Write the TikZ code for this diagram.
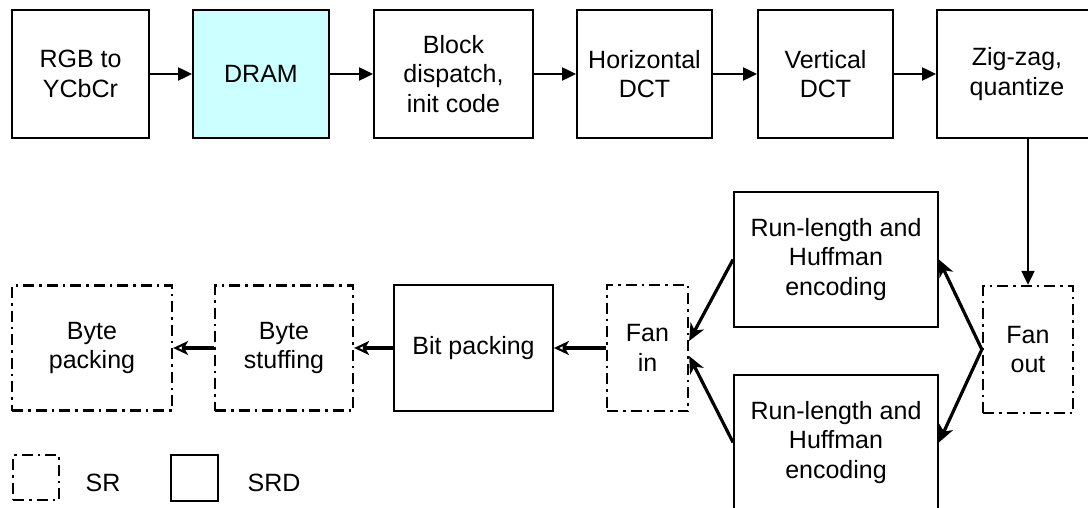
\documentclass[tikz,border=0pt]{standalone}
\usepackage{fontspec}
\setmainfont{Liberation Sans}
\usetikzlibrary{arrows.meta}
\definecolor{dramfill}{HTML}{CCFFFF}
\tikzset{
  blk/.style={draw, line width=1.8pt, inner sep=0pt, align=center,
    font=\fontsize{25}{29.5}\selectfont},
  srd/.style={blk},
  sr/.style={blk, line width=2.3pt, dash pattern=on 11pt off 5pt on 2.5pt off 5pt},
  flow/.style={line width=2pt, -{Triangle[length=14pt,width=13pt]}},
  fan/.style={line width=3.2pt, -{Stealth[length=17pt,width=15pt,inset=5pt]}},
  back/.style={line width=3.5pt, -{Stealth[length=15pt,width=14pt,inset=4pt,open,line width=2.2pt]}},
  legtext/.style={font=\fontsize{25}{29}\selectfont, inner sep=0pt}
}
\begin{document}
\begin{tikzpicture}[x=1pt, y=-1pt]
\useasboundingbox (0,0) rectangle (1088,508);
\clip (0,0) rectangle (1088,508);

% top row: SRD stages
\node[srd, minimum width=137pt, minimum height=128pt] (rgb) at (80.5,74) {RGB to\\YCbCr};
\node[srd, fill=dramfill, minimum width=136pt, minimum height=128pt] (dram) at (261,74) {DRAM};
\node[srd, minimum width=159pt, minimum height=128pt] (block) at (453.5,74) {Block\\dispatch,\\init code};
\node[srd, minimum width=135pt, minimum height=128pt] (hdct) at (644.5,74) {Horizontal\\DCT};
\node[srd, minimum width=135pt, minimum height=128pt] (vdct) at (825.5,74) {Vertical\\DCT};
\node[srd, minimum width=160pt, minimum height=128pt] (zig) at (1017,74) {Zig-zag,\\quantize};

% fan-out / parallel encoders / fan-in
\node[sr, minimum width=90pt, minimum height=127pt] (fanout) at (1028,349.5) {Fan\\out};
\node[srd, minimum width=204pt, minimum height=135pt] (rl1) at (836,259.5) {Run-length and\\Huffman\\encoding};
\node[srd, minimum width=204pt, minimum height=135pt] (rl2) at (836,442.5) {Run-length and\\Huffman\\encoding};
\node[sr, minimum width=81pt, minimum height=126pt] (fanin) at (647.5,348) {Fan\\in};

% bottom row
\node[srd, minimum width=159pt, minimum height=126pt] (bitp) at (473.5,348) {Bit packing};
\node[sr, minimum width=138pt, minimum height=125pt] (bstuff) at (284,348) {Byte\\stuffing};
\node[sr, minimum width=160pt, minimum height=125pt] (bpack) at (92,348) {Byte\\packing};

% legend
\node[sr, minimum width=46pt, minimum height=45pt] (legsr) at (36,477.5) {};
\node[legtext] (legsrt) at (103,483) {SR};
\node[srd, minimum width=47pt, minimum height=46pt] (legsrd) at (194.5,478) {};
\node[legtext] (legsrdt) at (274,483) {SRD};

% connectors
\draw[flow] (rgb) -- (dram);
\draw[flow] (dram) -- (block);
\draw[flow] (block) -- (hdct);
\draw[flow] (hdct) -- (vdct);
\draw[flow] (vdct) -- (zig);
\draw[flow] (fanout.north |- zig.south) -- (fanout.north);

\draw[fan] (fanout.west) -- (rl1.east);
\draw[fan] (fanout.west) -- (rl2.east);
\draw[fan] (rl1.west) -- ([yshift=7pt]fanin.east);
\draw[fan] (rl2.west) -- ([yshift=-8pt]fanin.east);

\draw[back] (fanin.west) -- (bitp.east);
\draw[back] (bitp.west) -- (bstuff.east);
\draw[back] (bstuff.west) -- (bpack.east);
\end{tikzpicture}
\end{document}
